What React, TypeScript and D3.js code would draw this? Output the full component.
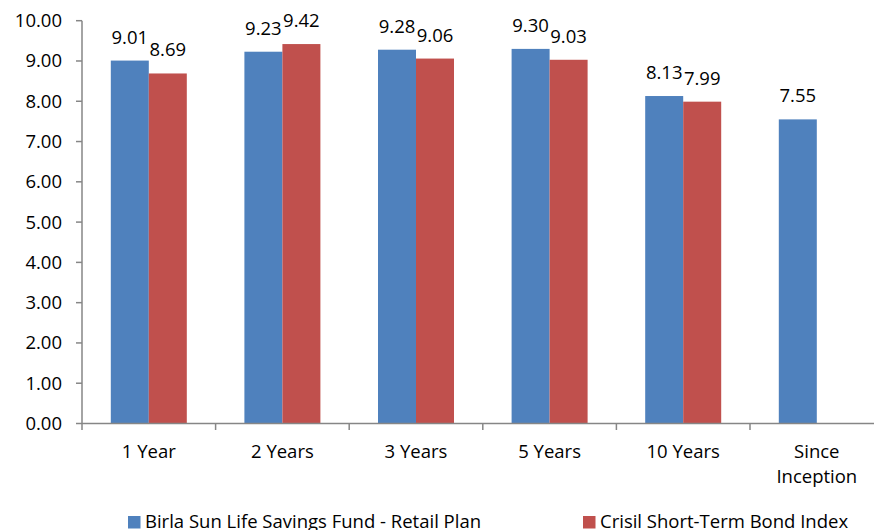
import React from "react";
import * as d3 from "d3";

const categories: string[][] = [["1 Year"], ["2 Years"], ["3 Years"], ["5 Years"], ["10 Years"], ["Since", "Inception"]];
const fundValues: (number | null)[] = [9.01, 9.23, 9.28, 9.30, 8.13, 7.55];
const indexValues: (number | null)[] = [8.69, 9.42, 9.06, 9.03, 7.99, null];
const yTicks: number[] = [0, 1, 2, 3, 4, 5, 6, 7, 8, 9, 10];
const seriesNames: string[] = ["Birla Sun Life Savings Fund - Retail Plan", "Crisil Short-Term Bond Index"];
const colors = ["#4F81BD", "#C0504D"];

const W = 874;
const H = 530;
const FONT = "'Open Sans', sans-serif";
const FS = 18.5;

export default function App() {
  const left = 82;
  const bandW = 133.6;
  const x = d3
    .scaleBand<number>()
    .domain(categories.map((_, i) => i))
    .range([left, left + bandW * categories.length])
    .paddingInner(0)
    .paddingOuter(0);
  const y = d3.scaleLinear().domain([0, 10]).range([423.5, 20.7]);
  const barW = 38;
  const series = [fundValues, indexValues];
  const axisColor = "#868686";

  return (
    <svg width={W} height={H} style={{ position: "absolute", left: 0, top: 0, background: "#fff" }}>
      {series.map((vals, s) =>
        vals.map((v, i) => {
          if (v == null) return null;
          const cx = (x(i) as number) + x.bandwidth() / 2;
          const bx = cx - barW + s * barW;
          return (
            <g key={`b${s}-${i}`}>
              <rect x={bx} y={y(v)} width={barW} height={y(0) - y(v)} fill={colors[s]} />
              <text
                x={bx + barW / 2}
                y={y(v) - 17}
                textAnchor="middle"
                fontFamily={FONT}
                fontSize={FS}
                fill="#000"
              >
                {v.toFixed(2)}
              </text>
            </g>
          );
        })
      )}
      <line x1={left} x2={left} y1={y(10)} y2={430} stroke={axisColor} strokeWidth={1.5} />
      {yTicks.map((t) => (
        <g key={`yt${t}`}>
          <line x1={76} x2={left} y1={y(t)} y2={y(t)} stroke={axisColor} strokeWidth={1.5} />
          <text
            x={62}
            y={y(t)}
            dy="0.35em"
            textAnchor="end"
            fontFamily={FONT}
            fontSize={FS}
            fill="#000"
          >
            {t.toFixed(2)}
          </text>
        </g>
      ))}
      <line x1={left} x2={W} y1={y(0)} y2={y(0)} stroke={axisColor} strokeWidth={1.5} />
      {categories.map((_, i) => (
        <line
          key={`xt${i}`}
          x1={(x(i) as number) + x.bandwidth()}
          x2={(x(i) as number) + x.bandwidth()}
          y1={y(0)}
          y2={430}
          stroke={axisColor}
          strokeWidth={1.5}
        />
      ))}
      {categories.map((lines, i) => (
        <text
          key={`xl${i}`}
          x={(x(i) as number) + x.bandwidth() / 2}
          y={458}
          textAnchor="middle"
          fontFamily={FONT}
          fontSize={FS}
          fill="#000"
        >
          {lines.map((l, j) => (
            <tspan key={j} x={(x(i) as number) + x.bandwidth() / 2} dy={j === 0 ? 0 : 25}>
              {l}
            </tspan>
          ))}
        </text>
      ))}
      {seriesNames.map((n, s) => {
        const lx = s === 0 ? 128 : 583;
        return (
          <g key={`lg${s}`}>
            <rect x={lx} y={516} width={12.5} height={12.5} fill={colors[s]} />
            <text x={lx + 17} y={528} fontFamily={FONT} fontSize={FS} fill="#000">
              {n}
            </text>
          </g>
        );
      })}
    </svg>
  );
}
